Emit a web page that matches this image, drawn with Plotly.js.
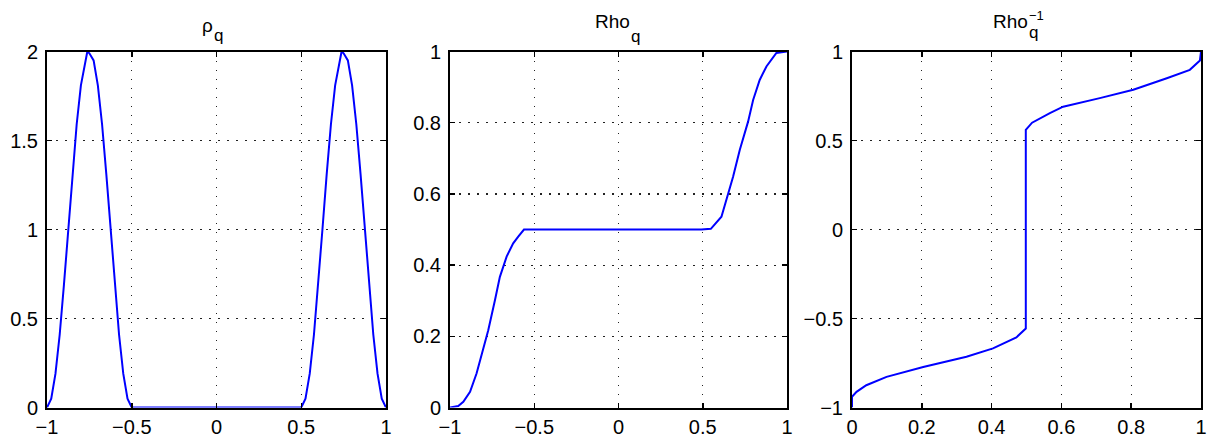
<!DOCTYPE html>
<html>
<head>
<meta charset="utf-8">
<script src="https://cdn.plot.ly/plotly-3.0.1.min.js"></script>
<style>html,body{margin:0;padding:0;background:#fff}#chart{width:1208px;height:437px}</style>
</head>
<body>
<div id="chart"></div>
<script>
// Panel 1: rho_q (density)
const rhoX = [-1, -0.975, -0.95, -0.925, -0.9, -0.875, -0.85, -0.825, -0.8, -0.775, -0.762, -0.75,
              -0.725, -0.7, -0.675, -0.65, -0.625, -0.6, -0.575, -0.55, -0.525, -0.5,
              0.5, 0.525, 0.55, 0.575, 0.6, 0.625, 0.65, 0.675, 0.7, 0.725, 0.738, 0.75,
              0.775, 0.8, 0.825, 0.85, 0.875, 0.9, 0.925, 0.95, 0.975, 1];
const rhoY = [0, 0.05, 0.19, 0.41, 0.69, 1.0, 1.31, 1.59, 1.81, 1.95, 2.0, 1.99,
              1.95, 1.81, 1.59, 1.31, 1.0, 0.69, 0.41, 0.19, 0.05, 0,
              0, 0.05, 0.19, 0.41, 0.69, 1.0, 1.31, 1.59, 1.81, 1.95, 2.0, 1.99,
              1.95, 1.81, 1.59, 1.31, 1.0, 0.69, 0.41, 0.19, 0.05, 0];

// Panel 2: Rho_q (cumulative)
const cdfX = [-1, -0.951, -0.921, -0.881, -0.842, -0.803, -0.773, -0.733, -0.704, -0.664,
              -0.625, -0.595, -0.561, 0.492, 0.548, 0.611, 0.650, 0.680, 0.720, 0.769,
              0.799, 0.838, 0.878, 0.937, 1];
const cdfY = [0, 0.004, 0.016, 0.044, 0.096, 0.161, 0.217, 0.302, 0.367, 0.424,
              0.461, 0.480, 0.500, 0.500, 0.502, 0.536, 0.602, 0.648, 0.724, 0.803,
              0.864, 0.920, 0.958, 0.996, 1];

// Panel 3: Rho_q^-1 (inverse)
const invX = [0, 0, 0.013, 0.041, 0.099, 0.204, 0.328, 0.404, 0.471, 0.498,
              0.498, 0.516, 0.567, 0.605, 0.710, 0.806, 0.902, 0.968, 0.997, 1];
const invY = [-1, -0.94, -0.912, -0.875, -0.828, -0.772, -0.715, -0.668, -0.606, -0.556,
              0.56, 0.60, 0.654, 0.69, 0.738, 0.785, 0.85, 0.897, 0.95, 1];

// Title pieces: base, subscript, superscript
const titleBase = ['ρ', 'Rho', 'Rho'];
const titleSub = ['q', 'q', 'q'];
const titleSup = ['', '', '−1'];

const W = 1208, H = 437;
const dom = [[47/W, 386/W], [450/W, 787/W], [852/W, 1201/W]];
const yDom = [(437-407.5)/H, (437-51.5)/H];
const FONT = 'Liberation Sans, Arial, Helvetica, sans-serif';

const lineStyle = {color: '#0000ff', width: 2};
const traces = [
  {x: rhoX, y: rhoY, xaxis: 'x', yaxis: 'y', mode: 'lines', line: lineStyle, hoverinfo: 'skip'},
  {x: cdfX, y: cdfY, xaxis: 'x2', yaxis: 'y2', mode: 'lines', line: lineStyle, hoverinfo: 'skip'},
  {x: invX, y: invY, xaxis: 'x3', yaxis: 'y3', mode: 'lines', line: lineStyle, hoverinfo: 'skip'}
];

function ax(extra) {
  return Object.assign({
    showline: true, linecolor: '#000', linewidth: 2, mirror: 'ticks',
    ticks: 'inside', ticklen: 5, tickwidth: 1.5, tickcolor: '#000',
    showgrid: true, gridcolor: '#222', gridwidth: 1.2, griddash: '1.5px,7.5px',
    zeroline: false, fixedrange: true, ticklabelstandoff: 3,
    tickfont: {family: FONT, size: 20, color: '#000'}
  }, extra);
}

function txt(s, xpx, ypx, size, xanchor) {
  return {text: s, xref: 'paper', yref: 'paper', x: xpx/W, y: (H-ypx)/H,
          xanchor: xanchor, yanchor: 'middle', showarrow: false, borderpad: 0,
          font: {family: FONT, size: size, color: '#000'}};
}

// pixel anchors for title pieces: [baseRightEdge, baseMidY, subMidY, supMidY]
const tpos = [[214, 25, 36], [631, 22, 37], [1029, 22, 33, 15]];
const annotations = [];
for (let i = 0; i < 3; i++) {
  annotations.push(txt(titleBase[i], tpos[i][0], tpos[i][1], 19, 'right'));
  annotations.push(txt(titleSub[i], tpos[i][0] - 1, tpos[i][2], 17, 'left'));
  if (titleSup[i]) annotations.push(txt(titleSup[i], tpos[i][0] - 1, tpos[i][3], 13, 'left'));
}

const xExtra = {ticklabelstandoff: 0};
const layout = {
  width: W, height: H,
  margin: {l: 0, r: 0, t: 0, b: 0},
  paper_bgcolor: '#fff', plot_bgcolor: '#fff',
  showlegend: false,
  xaxis:  ax(Object.assign({domain: dom[0], range: [-1, 1], dtick: 0.5, tick0: -1, anchor: 'y'}, xExtra)),
  yaxis:  ax({domain: yDom, range: [0, 2], dtick: 0.5, tick0: 0, anchor: 'x'}),
  xaxis2: ax(Object.assign({domain: dom[1], range: [-1, 1], dtick: 0.5, tick0: -1, anchor: 'y2'}, xExtra)),
  yaxis2: ax({domain: yDom, range: [0, 1], dtick: 0.2, tick0: 0, anchor: 'x2'}),
  xaxis3: ax(Object.assign({domain: dom[2], range: [0, 1], dtick: 0.2, tick0: 0, anchor: 'y3'}, xExtra)),
  yaxis3: ax({domain: yDom, range: [-1, 1], dtick: 0.5, tick0: -1, anchor: 'x3'}),
  annotations: annotations
};

Plotly.newPlot('chart', traces, layout, {staticPlot: true, displayModeBar: false});
</script>
</body>
</html>
